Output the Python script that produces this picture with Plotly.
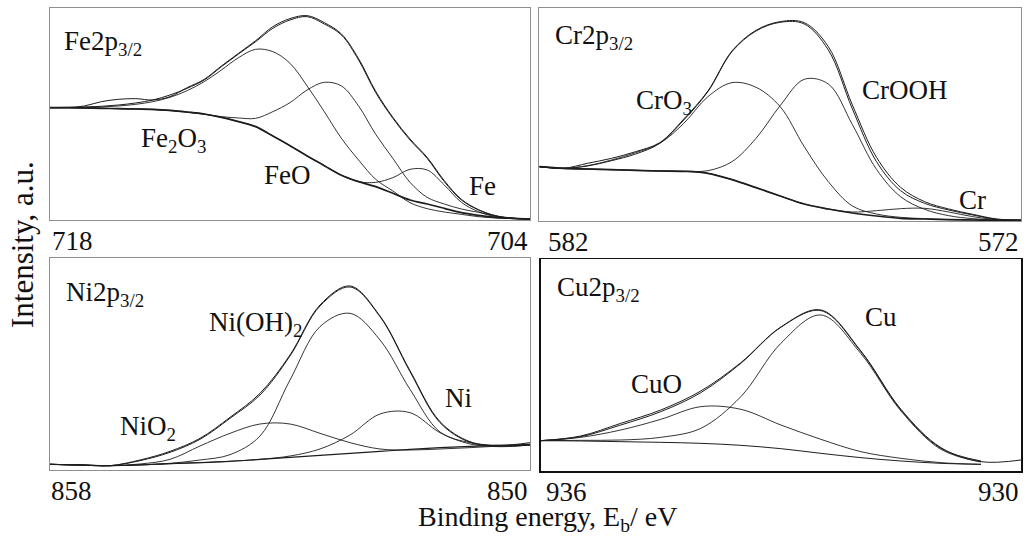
import plotly.graph_objects as go

# ---------------- data (binding energy in eV, intensity in a.u.) ----------------
FE_EV = [718.0, 717.5, 717.0, 716.5, 716.0, 715.5, 715.0, 714.5, 714.0, 713.5, 713.0, 712.5,
         712.0, 711.5, 711.0, 710.5, 710.0, 709.5, 709.0, 708.5, 708.0, 707.5, 707.0, 706.5,
         706.0, 705.5, 705.0, 704.5, 704.0]
fe_measured = [337, 337, 342, 355, 362, 364, 360, 370, 397, 422, 462, 500, 538, 580, 604, 613, 592,
               558, 484, 386, 308, 243, 188, 118, 62, 31, 13, 5, 3]
fe_fit = [337, 338, 339, 341, 345, 351, 360, 375, 395, 420, 460, 498, 535, 575, 600, 610, 588,
          555, 480, 382, 305, 240, 185, 115, 60, 30, 12, 5, 3]
fe_background = [337, 337, 336, 335, 334, 333, 332, 329, 324, 318, 308, 295, 280, 252, 223, 192, 163,
                 134, 115, 100, 80, 60, 48, 35, 22, 14, 8, 5, 3]
fe_Fe2O3 = [337, 337, 338, 339, 342, 347, 355, 368, 388, 415, 450, 487, 512, 505, 470, 402, 325,
            245, 180, 122, 87, 52, 34, 24, 17, 10, 6, 4, 3]
fe_FeO = [337, 337, 336, 335, 334, 333, 331, 328, 323, 317, 310, 306, 305, 325, 352, 390, 413,
          402, 342, 257, 185, 113, 68, 48, 33, 23, 12, 6, 3]
fe_Fe = [337, 337, 336, 335, 334, 333, 332, 329, 324, 318, 308, 295, 280, 252, 223, 192, 163,
         134, 115, 113, 127, 152, 150, 105, 53, 25, 10, 5, 3]

CR_EV = [582.0, 581.5, 581.0, 580.5, 580.0, 579.5, 579.0, 578.5, 578.0, 577.5, 577.0, 576.5,
         576.0, 575.5, 575.0, 574.5, 574.0, 573.5, 573.0, 572.5, 572.0]
cr_measured = [163, 158, 173, 188, 208, 235, 306, 390, 510, 572, 598, 595, 523, 348, 191, 101, 58,
               36, 20, 6, 3]
cr_fit = [163, 158, 165, 181, 201, 233, 303, 388, 508, 570, 596, 591, 513, 336, 178, 91, 53,
          33, 18, 5, 2]
cr_background = [163, 158, 156, 154, 152, 150, 149, 143, 124, 100, 75, 51, 36, 24, 15, 8, 6,
                 4, 3, 2, 2]
cr_CrO3 = [163, 158, 166, 183, 205, 233, 293, 373, 415, 401, 343, 223, 118, 45, 21, 11, 7,
           4, 3, 2, 2]
cr_CrOOH = [163, 158, 156, 154, 152, 150, 149, 151, 178, 248, 346, 425, 411, 289, 155, 73, 35,
            16, 7, 3, 2]
cr_Cr = [163, 158, 156, 154, 152, 150, 149, 143, 124, 100, 75, 51, 36, 27, 31, 37, 38,
         27, 13, 4, 2]

NI_EV = [858.0, 857.5, 857.0, 856.5, 856.0, 855.5, 855.0, 854.5, 854.0, 853.5, 853.0, 852.5,
         852.0, 851.5, 851.0, 850.5, 850.0]
ni_measured = [17, 15, 13, 30, 56, 95, 158, 230, 345, 495, 552, 462, 298, 145, 85, 74, 82]
ni_fit = [17, 15, 13, 28, 53, 92, 155, 225, 342, 492, 549, 460, 295, 142, 83, 72, 75]
ni_background = [17, 15, 13, 15, 19, 22, 26, 32, 38, 44, 50, 56, 62, 67, 71, 74, 77]
ni_NiO2 = [17, 15, 13, 18, 32, 72, 110, 138, 138, 110, 82, 63, 60, 63, 67, 72, 75]
ni_NiOH2 = [17, 15, 13, 16, 20, 30, 46, 102, 270, 430, 470, 390, 242, 114, 82, 72, 75]
ni_Ni = [17, 15, 13, 15, 19, 22, 26, 32, 42, 63, 105, 168, 172, 112, 78, 70, 75]

CU_EV = [936.0, 935.5, 935.0, 934.5, 934.0, 933.5, 933.0, 932.5, 932.0, 931.5, 931.0, 930.5, 930.0]
cu_measured = [91, 105, 143, 183, 240, 325, 432, 483, 360, 185, 70, 28, 33]
cu_fit = [91, 103, 138, 178, 235, 323, 431, 481, 358, 183, 68, 30, None]
cu_background = [91, 90, 88, 86, 83, 77, 67, 53, 40, 30, 23, 20, None]
cu_CuO = [91, 101, 123, 155, 193, 185, 138, 95, 58, 38, 25, 20, None]
cu_Cu = [91, 92, 93, 101, 128, 223, 383, 468, 352, 180, 65, 27, None]

# tick labels (ends of each energy window)
FE_TICKS = ["718", "704"]
CR_TICKS = ["582", "572"]
NI_TICKS = ["858", "850"]
CU_TICKS = ["936", "930"]

PANEL_TITLES = ["Fe2p<sub>3/2</sub>", "Cr2p<sub>3/2</sub>", "Ni2p<sub>3/2</sub>", "Cu2p<sub>3/2</sub>"]

# ---------------- figure ----------------
FONT = "Liberation Serif, Times New Roman, serif"
LINE = "#1e1e1e"
fig = go.Figure()

panels = [
    (1, FE_EV, [(fe_measured, 1.0), (fe_fit, 1.0), (fe_background, 1.7), (fe_Fe2O3, 0.9), (fe_FeO, 0.9), (fe_Fe, 0.9)]),
    (2, CR_EV, [(cr_measured, 1.0), (cr_fit, 1.0), (cr_background, 1.7), (cr_CrO3, 0.9), (cr_CrOOH, 0.9), (cr_Cr, 0.9)]),
    (3, NI_EV, [(ni_measured, 1.0), (ni_fit, 1.0), (ni_background, 1.1), (ni_NiO2, 0.9), (ni_NiOH2, 0.9), (ni_Ni, 0.9)]),
    (4, CU_EV, [(cu_measured, 1.0), (cu_fit, 1.0), (cu_background, 1.0), (cu_CuO, 0.9), (cu_Cu, 0.9)]),
]
for idx, ev, series in panels:
    sfx = "" if idx == 1 else str(idx)
    for ys, w in series:
        fig.add_trace(go.Scatter(
            x=ev, y=ys, mode="lines", xaxis="x" + sfx, yaxis="y" + sfx,
            line=dict(color=LINE, width=w, shape="spline", smoothing=1.0),
            connectgaps=False, showlegend=False, hoverinfo="skip"))

W, H = 1027, 537
def dom_x(a, b):
    return [a / W, b / W]
def dom_y(top, bottom):
    return [1 - bottom / H, 1 - top / H]

axis_specs = {
    1: dict(xd=dom_x(50, 530), yd=dom_y(8.3, 220), xr=[718, 704], yr=[0, 635], col="#8f8f8f", lw=1),
    2: dict(xd=dom_x(539.3, 1021), yd=dom_y(8.3, 221), xr=[582, 572], yr=[0, 638], col="#8f8f8f", lw=1),
    3: dict(xd=dom_x(50, 530), yd=dom_y(258.3, 470), xr=[858, 850], yr=[0, 635], col="#8f8f8f", lw=1),
    4: dict(xd=dom_x(540.7, 1021), yd=dom_y(259.3, 471), xr=[936, 930], yr=[0, 635], col="#111111", lw=1.5),
}
layout = dict(width=W, height=H, margin=dict(l=0, r=0, t=0, b=0),
              paper_bgcolor="white", plot_bgcolor="white", showlegend=False)
for i, s in axis_specs.items():
    sfx = "" if i == 1 else str(i)
    common = dict(showgrid=False, zeroline=False, ticks="", showticklabels=False,
                  showline=True, mirror=True, linecolor=s["col"], linewidth=s["lw"], fixedrange=True)
    layout["xaxis" + sfx] = dict(domain=s["xd"], range=s["xr"], anchor="y" + sfx, **common)
    layout["yaxis" + sfx] = dict(domain=s["yd"], range=s["yr"], anchor="x" + sfx, **common)
fig.update_layout(**layout)

annots = []
def ann(text, x, y, ax, xanchor="center", yanchor="middle", size=27, xref=None, yref=None, xshift=0, yshift=0):
    sfx = "" if ax == 1 else str(ax)
    annots.append(dict(text=text, x=x, y=y, xref=xref or ("x" + sfx), yref=yref or ("y" + sfx),
                       xanchor=xanchor, yanchor=yanchor, showarrow=False, xshift=xshift, yshift=yshift,
                       font=dict(family=FONT, size=size, color="#111111")))

# panel titles
ann(PANEL_TITLES[0], 717.65, 530, 1, xanchor="left")
ann(PANEL_TITLES[1], 581.71, 552, 2, xanchor="left")
ann(PANEL_TITLES[2], 857.77, 528, 3, xanchor="left")
ann(PANEL_TITLES[3], 935.82, 546, 4, xanchor="left")

# component labels
ann("Fe<sub>2</sub>O<sub>3</sub>", 714.41, 240, 1)
ann("FeO", 711.06, 135, 1)
ann("Fe", 705.4, 102, 1)
ann("CrO<sub>3</sub>", 579.41, 357, 2)
ann("CrOOH", 574.41, 393, 2)
ann("Cr", 573.0, 63, 2)
ann("Ni(OH)<sub>2</sub>", 854.58, 438, 3)
ann("NiO<sub>2</sub>", 856.37, 126, 3)
ann("Ni", 851.2, 216, 3)
ann("CuO", 934.55, 261, 4)
ann("Cu", 931.75, 462, 4)

# end tick labels
for ax, ticks, ev, sh in [(1, FE_TICKS, FE_EV, 0), (2, CR_TICKS, CR_EV, 7), (3, NI_TICKS, NI_EV, -1), (4, CU_TICKS, CU_EV, 3)]:
    sfx = "" if ax == 1 else str(ax)
    ann(ticks[0], ev[0], 0, ax, xanchor="left", yref="y" + sfx + " domain", xshift=sh, yshift=-21)
    ann(ticks[1], ev[-1], 0, ax, xanchor="right", yref="y" + sfx + " domain", yshift=-21)

# axis titles
annots.append(dict(text="Binding energy, E<sub>b</sub>/ eV", x=547 / W, y=1 - 518 / H, xref="paper", yref="paper",
                   xanchor="center", yanchor="middle", showarrow=False,
                   font=dict(family=FONT, size=28, color="#111111")))
annots.append(dict(text="Intensity, a.u.", x=22 / W, y=1 - 245 / H, xref="paper", yref="paper",
                   xanchor="center", yanchor="middle", showarrow=False, textangle=-90,
                   font=dict(family=FONT, size=31, color="#111111")))
fig.update_layout(annotations=annots)

fig.write_html("out.html", config={"displayModeBar": False, "staticPlot": True},
               post_script="document.body.style.margin='0';document.body.style.overflow='hidden';")
